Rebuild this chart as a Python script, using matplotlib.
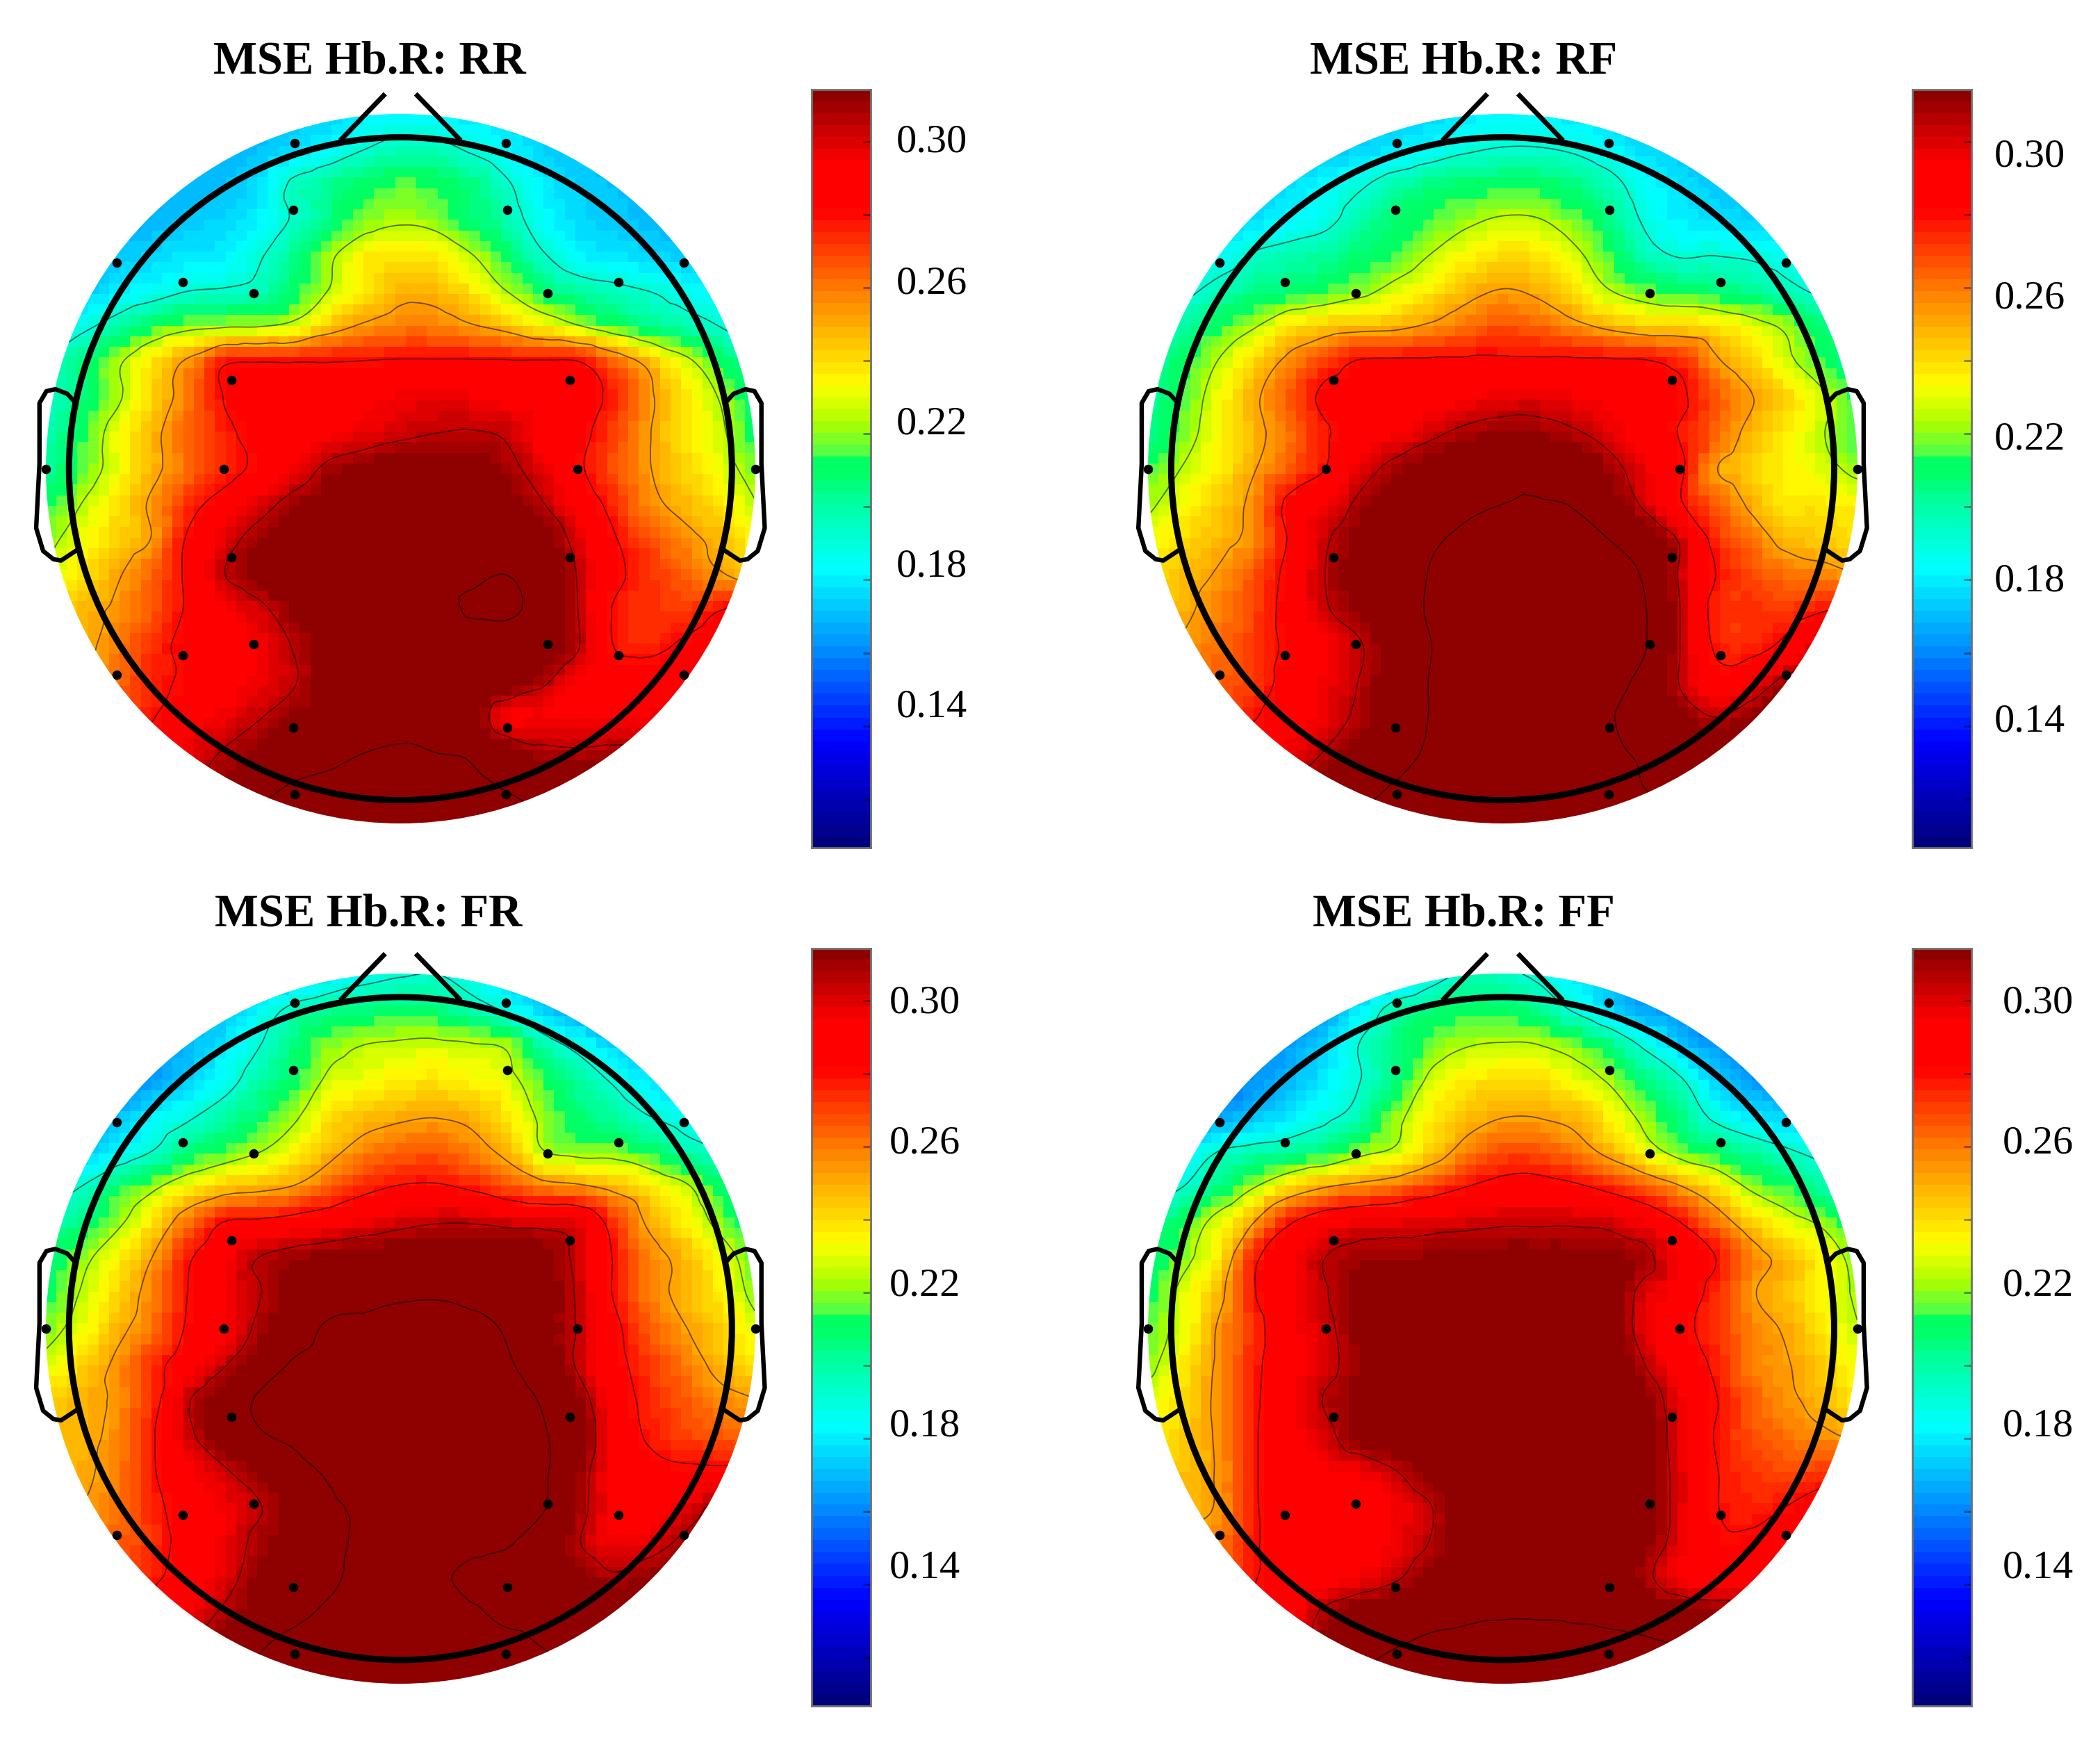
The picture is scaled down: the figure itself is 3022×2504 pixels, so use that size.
import matplotlib
matplotlib.use("Agg")
import matplotlib.pyplot as plt
import matplotlib.tri as mtri
from matplotlib.colors import LinearSegmentedColormap
from matplotlib.patches import Circle
import numpy as np

TITLES = ["MSE Hb.R: RR", "MSE Hb.R: RF", "MSE Hb.R: FR", "MSE Hb.R: FF"]
BAR_TICKS = [0.12, 0.14, 0.16, 0.18, 0.20, 0.22, 0.24, 0.26, 0.28, 0.30]
BAR_LABELS = ["0.30", "0.26", "0.22", "0.18", "0.14"]
CONTOUR_LEVELS = [0.19, 0.225, 0.255, 0.285, 0.312, 0.34]

# Values, in thousandths, rows from front (top) to back (bottom)
RR = [
[168,168,168,168,168,168,168,170,172,176,178,178,175,172,170,168,168,168,168,168,168],
[165,165,165,165,165,166,168,174,181,190,196,195,188,180,172,168,166,165,165,165,165],
[162,162,162,163,165,168,174,193,202,210,215,212,205,192,178,172,168,165,163,162,162],
[160,160,162,165,170,172,179,192,205,218,223,220,208,198,182,173,170,167,163,160,160],
[162,165,170,172,176,178,188,203,222,237,241,238,226,210,192,180,176,173,170,165,160],
[165,170,177,183,190,192,196,210,226,241,251,250,240,225,210,200,195,190,184,178,172],
[178,186,198,212,221,224,225,231,248,258,263,263,257,250,238,227,216,206,198,190,180],
[190,205,222,240,258,282,285,285,285,286,287,287,287,287,287,286,268,250,230,212,197],
[192,205,222,243,263,285,293,296,296,298,302,303,302,298,296,293,280,258,240,224,205],
[196,212,232,250,268,281,290,295,300,304,309,312,313,310,296,290,275,256,240,228,210],
[200,215,232,250,266,278,289,302,316,322,326,326,323,316,305,288,272,256,244,232,218],
[210,225,240,258,278,292,305,318,327,328,330,330,329,325,313,296,280,260,250,240,226],
[220,233,245,256,287,305,318,326,330,331,332,332,332,330,326,306,287,272,260,250,235],
[228,240,253,268,288,311,320,328,332,334,335,336,338,340,333,311,290,278,268,257,243],
[240,250,258,270,287,299,308,320,328,332,334,336,341,342,334,312,284,278,277,285,292],
[245,250,263,278,290,295,302,313,325,330,332,333,334,332,330,313,285,281,288,296,302],
[250,256,266,280,288,296,303,311,325,330,332,333,333,328,315,300,295,296,300,305,310],
[258,265,272,284,297,303,311,320,328,332,334,334,324,301,301,301,300,302,306,310,312],
[270,278,285,292,303,313,322,330,335,340,342,340,337,325,316,314,315,316,316,316,316],
[285,290,295,302,312,322,334,342,345,347,348,348,345,339,335,330,325,322,320,318,318],
[300,305,310,315,325,335,345,350,352,352,352,352,350,346,342,338,334,330,326,322,320],
]
RF = [
[170,170,170,170,170,170,170,170,172,176,178,178,175,172,170,170,170,170,170,170,170],
[170,170,170,170,170,170,172,176,182,188,191,191,188,181,174,170,168,168,168,168,168],
[170,170,170,170,174,180,188,198,205,209,210,210,205,196,182,175,170,170,170,170,170],
[172,172,172,175,180,186,198,208,214,222,227,226,217,205,188,178,175,172,172,172,172],
[172,176,182,192,197,201,208,215,226,236,242,240,229,214,197,189,190,188,184,180,176],
[178,186,196,204,209,214,221,231,240,250,256,252,241,226,217,212,208,203,195,187,180],
[190,200,212,224,240,246,250,252,258,266,272,268,260,252,246,245,241,232,222,207,195],
[197,210,226,243,260,276,287,288,288,288,288,288,288,288,287,280,258,245,229,214,200],
[200,215,233,252,270,289,293,295,297,300,304,305,302,298,293,288,270,256,243,228,211],
[203,218,235,250,265,283,293,300,309,316,319,318,314,306,295,284,268,250,238,226,212],
[215,226,238,254,270,285,305,317,325,330,335,335,330,318,303,288,256,245,237,230,221],
[222,234,246,260,290,300,316,324,331,337,340,341,339,326,309,287,270,252,240,240,236],
[232,242,250,261,287,310,322,331,338,343,346,346,344,340,329,310,280,265,250,246,242],
[240,249,257,271,291,312,324,331,341,345,348,348,348,345,338,310,285,273,266,262,256],
[245,252,262,274,292,310,320,331,342,346,348,348,348,346,341,312,280,278,277,284,291],
[250,257,266,276,289,299,311,327,340,345,346,347,347,346,341,312,283,280,290,311,318],
[256,262,268,276,292,302,313,327,341,345,346,347,347,344,335,311,292,300,317,326,332],
[262,268,274,284,295,304,316,328,341,346,347,348,346,341,332,322,312,321,330,335,336],
[272,278,285,295,303,313,325,332,343,347,348,348,346,342,338,333,332,334,336,337,338],
[288,292,298,306,314,323,333,342,347,349,350,350,348,344,340,338,338,338,338,338,338],
[305,308,312,318,325,334,344,350,352,352,352,352,350,346,343,341,340,340,340,340,340],
]
FR = [
[150,150,150,150,150,152,156,165,175,183,188,190,182,172,162,155,150,150,150,150,150],
[148,148,148,150,155,165,180,194,201,205,208,206,197,187,172,160,155,150,148,148,148],
[148,150,152,158,166,176,189,205,219,225,227,228,226,222,198,185,172,165,158,152,150],
[150,152,153,160,170,183,198,210,228,233,238,240,236,230,214,200,188,176,170,165,160],
[150,155,166,178,187,198,208,222,240,248,252,254,251,240,221,207,200,190,183,176,170],
[160,168,178,190,205,215,224,236,250,262,268,270,262,250,226,220,219,210,198,190,180],
[180,190,208,221,236,246,250,256,268,280,286,287,282,272,262,258,250,240,228,210,195],
[194,205,221,240,265,285,288,292,297,303,308,311,311,308,307,303,278,252,238,220,205],
[205,220,236,255,282,298,312,318,322,325,326,327,327,326,321,308,284,262,250,234,215],
[210,226,243,262,285,301,311,322,330,333,337,338,335,331,325,310,284,263,250,238,220],
[218,232,250,265,287,298,315,330,343,345,347,347,345,338,325,311,290,270,256,246,230],
[230,243,258,278,295,310,326,342,347,349,350,350,349,342,330,310,292,276,264,250,240],
[245,250,258,278,310,325,342,347,349,350,350,350,350,347,338,320,296,280,270,260,255],
[248,251,260,283,308,325,338,343,350,350,350,350,350,349,342,326,298,283,275,270,265],
[250,252,262,283,299,310,322,334,343,350,350,350,350,349,343,320,298,290,288,288,290],
[253,255,265,280,293,302,311,323,337,343,350,350,350,348,342,318,300,295,303,316,321],
[258,262,268,278,291,302,316,325,336,343,349,350,345,342,330,313,302,305,315,325,330],
[262,268,273,282,292,305,320,329,337,345,349,343,336,333,330,323,314,320,326,331,333],
[272,278,283,292,303,314,325,335,343,348,350,347,342,337,335,332,330,330,331,332,333],
[288,292,296,304,312,323,338,347,350,351,352,351,348,344,340,338,336,335,335,335,335],
[305,308,312,318,325,334,345,350,352,352,352,352,350,347,344,342,340,338,338,338,338],
]
FF = [
[150,150,150,150,150,152,155,163,180,193,193,186,175,165,158,152,150,150,150,150,150],
[148,148,148,150,153,160,178,197,206,210,210,202,188,174,162,155,150,148,148,148,148],
[145,146,148,152,160,172,191,205,217,224,226,225,218,205,187,170,158,150,148,146,145],
[146,148,150,158,166,177,190,205,229,238,242,242,233,223,205,192,172,160,155,150,148],
[150,155,160,168,176,186,197,220,238,248,254,254,250,237,220,204,186,176,170,165,160],
[165,177,190,196,201,207,220,228,245,262,272,271,263,250,233,218,210,200,192,185,178],
[180,190,205,224,242,254,260,266,276,285,291,292,288,280,269,256,240,222,212,200,190],
[198,212,232,255,283,297,302,304,306,308,310,310,310,308,300,285,265,245,232,222,205],
[205,220,240,281,298,312,317,318,320,322,323,323,322,320,316,298,285,262,250,236,218],
[210,230,250,284,299,311,322,327,330,332,333,333,332,325,307,296,279,257,248,235,222],
[215,232,257,279,297,308,322,328,330,332,333,334,333,326,305,290,278,262,253,240,226],
[220,238,258,281,296,307,320,328,331,333,334,335,334,328,312,295,282,263,256,246,232],
[230,243,259,282,297,313,322,329,332,334,335,336,335,330,322,302,286,270,258,250,238],
[238,245,258,283,297,308,322,330,333,335,336,336,336,333,325,304,284,272,265,258,250],
[242,248,257,283,296,300,303,312,325,333,336,336,336,333,325,306,286,277,273,276,285],
[247,250,257,283,292,294,296,302,312,330,335,336,336,333,326,306,286,281,285,293,300],
[252,255,263,283,291,293,295,303,313,331,335,336,336,332,323,305,288,288,295,302,308],
[258,262,270,284,292,296,302,310,322,332,336,336,335,330,316,300,295,298,303,308,312],
[268,274,281,288,297,315,325,330,333,336,338,338,337,335,330,325,320,318,320,320,320],
[285,290,296,303,312,323,334,340,345,348,350,350,348,346,344,340,332,328,325,324,324],
[302,306,310,316,325,334,343,350,352,352,352,352,351,350,348,345,340,335,332,330,330],
]

# Electrode positions in head radii
ELEC_X = [-.319,.319,-.323,.323,-.855,.855,-.657,.657,-.443,.443,-.511,.511,-.533,.533,-1.07,1.07,
          -.511,.511,-.443,.443,-.657,.657,-.855,.855,-.323,.323,-.319,.319]
ELEC_Y = [.982,.982,.780,.780,.622,.622,.562,.562,.529,.529,.267,.267,0,0,0,0,
          -.267,-.267,-.529,-.529,-.562,-.562,-.622,-.622,-.780,-.780,-.982,-.982]
EAR_X = [.984,1.005,1.041,1.068,1.089,1.089,1.099,1.078,1.047,1.024,.971]
EAR_Y = [.203,.226,.240,.234,.198,.016,-.179,-.248,-.273,-.277,-.242]
NOSE_X = [.182,.046]
NOSE_Y = [.99,1.131]

# Colour ramp
CMAP_STOPS = [
    (0.000, (0.00, 0.00, 0.50)), (0.135, (0.00, 0.00, 1.00)), (0.275, (0.00, 0.63, 1.00)),
    (0.367, (0.00, 1.00, 1.00)), (0.455, (0.00, 1.00, 0.63)), (0.494, (0.00, 1.00, 0.40)),
    (0.514, (0.00, 1.00, 0.38)), (0.518, (0.30, 1.00, 0.30)), (0.560, (0.67, 1.00, 0.00)),
    (0.612, (1.00, 1.00, 0.00)), (0.737, (1.00, 0.50, 0.00)), (0.848, (1.00, 0.00, 0.00)),
    (0.910, (1.00, 0.00, 0.00)), (1.000, (0.56, 0.00, 0.00)),
]

plt.rcParams['font.family'] = ['Liberation Serif', 'DejaVu Serif']
W, H = 3022, 2504
S = W / 1568            # reference display scale
R = 247.5               # head radius in display px
DISC = 265 / R          # coloured disc radius
LIM = 1.22
MAP_RANGE = (0.098, 0.322)
BAR_RANGE = (0.1066, 0.3143)
cmap = LinearSegmentedColormap.from_list('bar', CMAP_STOPS, N=64)

fig = plt.figure(figsize=(W / 100, H / 100), dpi=100, facecolor='white')

PANELS = [
    dict(data=RR, c=(299, 350), bar=(606, 67), lab_x=669, lab_y=[106, 212, 317, 423, 528], t=(276, 46)),
    dict(data=RF, c=(1122, 350), bar=(1428, 67), lab_x=1489, lab_y=[117, 223, 328, 434, 539], t=(1093, 46)),
    dict(data=FR, c=(299, 992), bar=(606, 708), lab_x=664, lab_y=[749, 854, 960, 1065, 1171], t=(275, 683)),
    dict(data=FF, c=(1122, 992), bar=(1428, 708), lab_x=1495, lab_y=[749, 854, 960, 1065, 1171], t=(1093, 683)),
]
BAR_W, BAR_H = 44, 566


def rect(x0, y0, w, h):
    return [x0 * S / W, 1 - (y0 + h) * S / H, w * S / W, h * S / H]


grid_n = 21
gx = np.linspace(-DISC, DISC, grid_n)
gy = np.linspace(DISC, -DISC, grid_n)
GX, GY = np.meshgrid(gx, gy)
tri = mtri.Triangulation(GX.ravel(), GY.ravel())

for p, title in zip(PANELS, TITLES):
    cx, cy = p['c']
    half = LIM * R
    ax = fig.add_axes(rect(cx - half, cy - half, 2 * half, 2 * half))
    ax.set_xlim(-LIM, LIM)
    ax.set_ylim(-LIM, LIM)
    ax.axis('off')

    values = np.array(p['data'], float) / 1000
    interp = mtri.CubicTriInterpolator(tri, values.ravel(), kind='geom')

    edges = np.linspace(-DISC, DISC, 68)
    mids = 0.5 * (edges[:-1] + edges[1:])
    MX, MY = np.meshgrid(mids, mids)
    field = np.ma.filled(interp(MX, MY), np.nan)
    disc = Circle((0, 0), DISC, transform=ax.transData)
    mesh = ax.pcolormesh(edges, edges, field, cmap=cmap, vmin=MAP_RANGE[0], vmax=MAP_RANGE[1],
                         shading='flat', rasterized=True, antialiased=False)
    mesh.set_clip_path(disc)

    fine = np.linspace(-DISC + 1e-3, DISC - 1e-3, 241)
    FX, FY = np.meshgrid(fine, fine)
    ffield = interp(FX, FY)
    cs = ax.contour(FX, FY, ffield, levels=CONTOUR_LEVELS, colors='black', linewidths=1.3, alpha=0.55, zorder=3)
    cs.set_clip_path(Circle((0, 0), DISC, transform=ax.transData))

    ax.add_patch(Circle((0, 0), 1.0, fill=False, ec='black', lw=6.5, zorder=6))
    for sgn in (-1, 1):
        ax.plot(sgn * np.array(EAR_X), EAR_Y, color='black', lw=4.6, zorder=5, solid_joinstyle='round')
        ax.plot(sgn * np.array(NOSE_X), NOSE_Y, color='black', lw=5, zorder=5, solid_capstyle='butt')
    ax.scatter(ELEC_X, ELEC_Y, s=95, c='black', linewidths=0, zorder=7, clip_on=False)

    tx, ty = p['t']
    ax.text((tx - cx) / R, (cy - ty) / R, title, ha='center', va='center', fontsize=48,
            fontweight='bold', color='black', clip_on=False, zorder=8)

    bx, by = p['bar']
    bar = fig.add_axes(rect(bx, by, BAR_W, BAR_H))
    gradient = np.linspace(0, 1, 64).reshape(-1, 1)
    bar.imshow(gradient, cmap=cmap, aspect='auto', origin='lower', vmin=0, vmax=1,
               extent=(0, 1, BAR_RANGE[0], BAR_RANGE[1]), interpolation='nearest')
    bar.set_xticks([])
    bar.yaxis.tick_right()
    bar.set_yticks(BAR_TICKS)
    bar.set_yticklabels([])
    bar.tick_params(axis='y', direction='in', length=8, width=2.2, color=(0, 0, 0, 0.4))
    for sp in bar.spines.values():
        sp.set_color('#707070')
        sp.set_linewidth(2)
    for lab, ly in zip(BAR_LABELS, p['lab_y']):
        bar.text(1 + (p['lab_x'] - (bx + BAR_W)) / BAR_W, (by + BAR_H - ly) / BAR_H, lab,
                 transform=bar.transAxes, ha='left', va='center', fontsize=42, color='black')

fig.savefig('out.png', dpi=100, facecolor='white')
